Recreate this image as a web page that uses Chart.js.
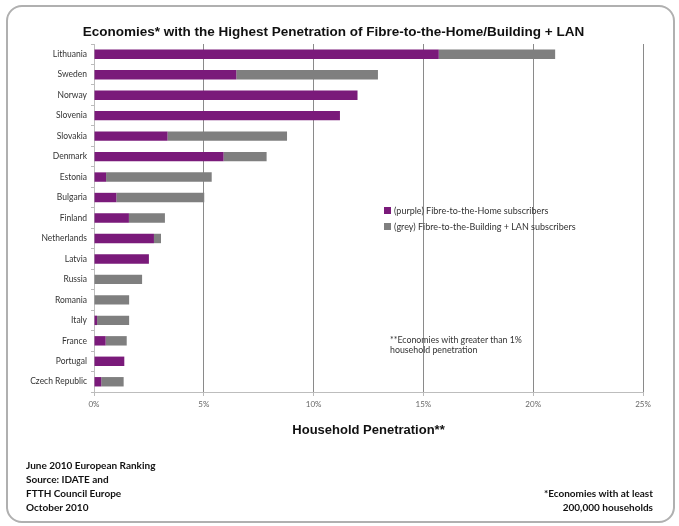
<!DOCTYPE html>
<html><head><meta charset="utf-8">
<script src="https://cdn.jsdelivr.net/npm/chart.js@4/dist/chart.umd.min.js"></script>
<style>
html,body{margin:0;padding:0;background:#fff;}
#wrap{position:relative;width:679px;height:526px;overflow:hidden;}
#frame{position:absolute;left:6px;top:5px;width:669px;height:518px;border:2px solid #b0b0b0;border-radius:16px;box-sizing:border-box;}
canvas{position:absolute;left:0;top:0;}
.t{position:absolute;font-family:"Liberation Sans",Arial,sans-serif;white-space:nowrap;color:#111;}
.s{position:absolute;font-family:Lato,"Open Sans",sans-serif;white-space:nowrap;color:#222;}
.sw{display:inline-block;width:7px;height:7px;margin-right:3px;vertical-align:0px;}
</style></head>
<body><div id="wrap">
<div id="frame"></div>
<canvas id="c" width="679" height="526"></canvas>
<div class="t" style="left:-6px;width:679px;text-align:center;top:24px;font-size:13.5px;font-weight:bold;">Economies* with the Highest Penetration of Fibre-to-the-Home/Building + LAN</div>
<div class="s" style="left:384px;top:205px;font-size:9px;color:#333;"><span class="sw" style="background:#7a1a7a"></span>(purple) Fibre-to-the-Home subscribers</div>
<div class="s" style="left:384px;top:221px;font-size:9px;color:#333;"><span class="sw" style="background:#7f7f7f"></span>(grey) Fibre-to-the-Building + LAN subscribers</div>
<div class="s" style="left:390px;top:335px;font-size:8.8px;line-height:10px;color:#333;">**Economies with greater than 1%<br>household penetration</div>
<div class="s" style="left:26px;top:458px;font-size:10px;line-height:14px;font-weight:bold;color:#111;">June 2010 European Ranking<br>Source: IDATE and<br>FTTH Council Europe<br>October 2010</div>
<div class="s" style="right:26px;top:486px;font-size:10px;line-height:14px;font-weight:bold;color:#111;text-align:right;">*Economies with at least<br>200,000 households</div>
</div>
<script>
const categories = ["Lithuania","Sweden","Norway","Slovenia","Slovakia","Denmark","Estonia","Bulgaria","Finland","Netherlands","Latvia","Russia","Romania","Italy","France","Portugal","Czech Republic"];
const ftthValues = [15.7, 6.48, 12.0, 11.2, 3.35, 5.9, 0.55, 1.02, 1.59, 2.73, 2.5, 0, 0, 0.14, 0.53, 1.38, 0.33];
const fttbLanValues = [5.3, 6.45, 0, 0, 5.44, 1.96, 4.81, 4.0, 1.64, 0.32, 0, 2.19, 1.6, 1.46, 0.96, 0, 1.02];
const xTicks = [0, 5, 10, 15, 20, 25];

new Chart(document.getElementById('c'), {
  type: 'bar',
  data: {
    labels: categories,
    datasets: [
      {label: '(purple) Fibre-to-the-Home subscribers', data: ftthValues, backgroundColor: '#7a1a7a', categoryPercentage: 1, barPercentage: 0.46},
      {label: '(grey) Fibre-to-the-Building + LAN subscribers', data: fttbLanValues, backgroundColor: '#7f7f7f', categoryPercentage: 1, barPercentage: 0.46}
    ]
  },
  options: {
    indexAxis: 'y',
    responsive: false,
    animation: false,
    layout: {padding: {left: 18, right: 36, top: 44, bottom: 84}},
    plugins: {legend: {display: false}, tooltip: {enabled: false}},
    scales: {
      x: {
        stacked: true, min: 0, max: 25,
        afterBuildTicks: (ax) => { ax.ticks = xTicks.map(v => ({value: v})); },
        afterFit: (ax) => { ax.height = 50; },
        ticks: {callback: v => v + '%', color: '#666', font: {family: 'Lato', size: 8}, padding: 4, maxRotation: 0},
        grid: {color: '#8a8a8a', lineWidth: 1, tickLength: 4, tickColor: '#bbb'},
        border: {color: '#bdbdbd', width: 1},
        title: {display: true, text: 'Household Penetration**', color: '#111', font: {family: 'Liberation Sans', size: 13, weight: 'bold'}, padding: {top: 2}}
      },
      y: {
        stacked: true,
        afterFit: (ax) => { ax.width = 76; },
        ticks: {color: '#333', font: {family: 'Lato', size: 8.5}, padding: 4, autoSkip: false},
        grid: {display: true, drawOnChartArea: false, offset: true, tickLength: 3, color: '#bbb'},
        border: {color: '#bdbdbd', width: 1}
      }
    }
  }
});
</script>
</body></html>
